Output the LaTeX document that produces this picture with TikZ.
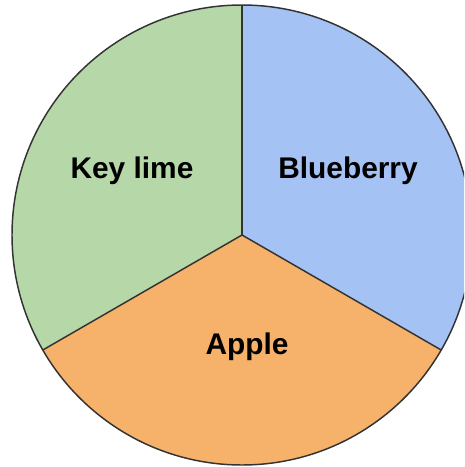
\documentclass[tikz,border=0pt]{standalone}
\usepackage{fontspec}
\setmainfont{Liberation Sans}
\definecolor{limegreen}{HTML}{B6D7A8}
\definecolor{berryblue}{HTML}{A4C2F4}
\definecolor{appleorange}{HTML}{F6B26B}
\tikzset{
  slice/.style={draw=black!80, line width=1.1pt, line join=round},
  slicelabel/.style={font=\bfseries\fontsize{22.4}{25}\selectfont, text=black}
}
\begin{document}
\begin{tikzpicture}[x=0.75pt, y=-0.75pt]
			\useasboundingbox (0,0) rectangle (464,467);
			\clip (0,0) rectangle (464,467);

			% Centre of the pie (y runs down here, so angles run clockwise)
			\coordinate (c) at (242,235);

			% Slices
			\fill[limegreen] (c) -- ++(-90:230) arc[start angle=-90, end angle=-210, radius=230] -- cycle;
			\fill[berryblue] (c) -- ++(-90:230) arc[start angle=-90, end angle=30, radius=230] -- cycle;
			\fill[appleorange] (c) -- ++(30:230) arc[start angle=30, end angle=150, radius=230] -- cycle;

			% Outlines
			\draw[slice] (c) circle[radius=230];
			\draw[slice] (c) -- ++(-90:230);
			\draw[slice] (c) -- ++(150:230);
			\draw[slice] (c) -- ++(30:230);

			% Labels
			\node[slicelabel] (keylime) at (132,171) {Key lime};
			\node[slicelabel] (blueberry) at (348,171) {Blueberry};
			\node[slicelabel] (apple) at (247,347) {Apple};
		\end{tikzpicture}
\end{document}
